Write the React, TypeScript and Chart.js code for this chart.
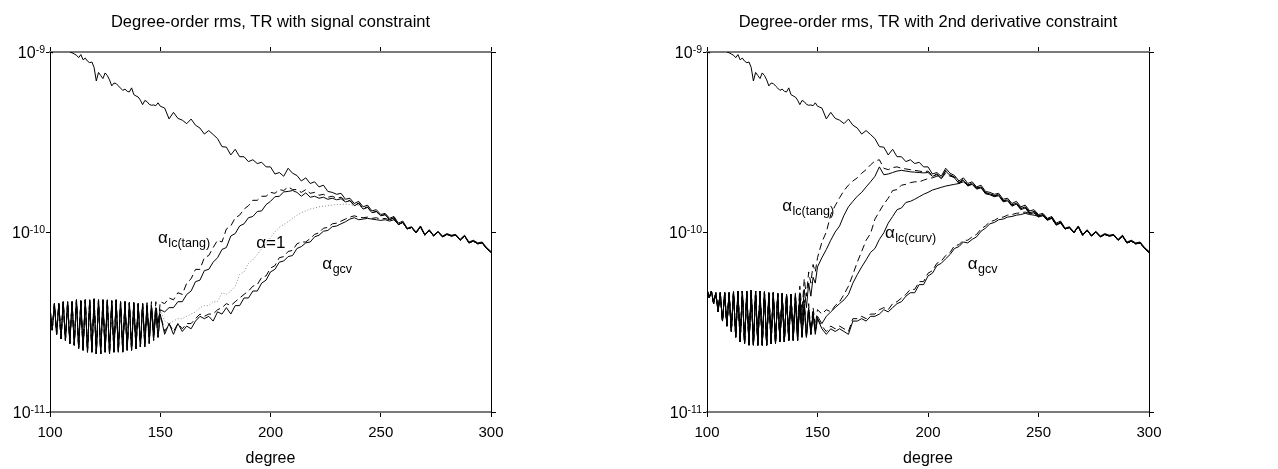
import React, { useEffect, useRef } from 'react';
import { Chart, registerables } from 'chart.js';

Chart.register(...registerables);

const FONT = '"Liberation Sans", Arial, Helvetica, sans-serif';
const UNIT = 1e-12; // all series values below are in units of 1e-12

// spherical-harmonic degree grid
const degrees = [
  100, 101, 102, 103, 104, 105, 106, 107, 108, 109,
  110, 111, 112, 113, 114, 115, 116, 117, 118, 119,
  120, 121, 122, 123, 124, 125, 126, 127, 128, 129,
  130, 131, 132, 133, 134, 135, 136, 137, 138, 139,
  140, 141, 142, 143, 144, 145, 146, 147, 148, 149, 150,
  152, 154, 156, 158, 160, 162, 164, 166, 168, 170,
  172, 174, 176, 178, 180, 182, 184, 186, 188, 190,
  192, 194, 196, 198, 200, 202, 204, 206, 208, 210,
  212, 214, 216, 218, 220, 222, 224, 226, 228, 230,
  232, 234, 236, 238, 240, 242, 244, 246, 248, 250,
  252, 254, 256, 258, 260, 262, 264, 266, 268, 270,
  272, 274, 276, 278, 280, 282, 284, 286, 288, 290,
  292, 294, 296, 298, 300,
];

// signal degree-order rms (same curve in both panels)
const signalRms = [
  1010, 985, 1040, 1060, 1080, 1070, 1090, 1060, 1040, 1000,
  990, 975, 960, 930, 968, 905, 925, 890, 872, 880,
  820, 690, 770, 740, 712, 765, 740, 700, 648, 672,
  668, 648, 630, 612, 622, 605, 600, 632, 580, 570,
  562, 540, 510, 538, 530, 512, 506, 508, 503, 522, 500,
  488, 425, 462, 428, 418, 400, 424, 392, 378, 350,
  366, 348, 330, 298, 296, 268, 288, 262, 262, 246,
  252, 240, 244, 230, 230, 210, 214, 204, 226, 212,
  206, 192, 200, 186, 190, 178, 182, 168, 166, 162,
  164, 152, 154, 144, 148, 138, 141, 131, 133, 125,
  127, 119, 122, 112, 115, 105, 107, 100, 108, 97,
  103, 96, 101, 95, 98, 96, 97, 91, 96, 88,
  90, 87, 88, 82, 78,
];

// common odd/even oscillation of all error curves, left panel, degrees 100..140
const zigLeft = [
  38, 28.5, 40, 27, 40, 25.5, 41, 25, 41, 24,
  41, 23.5, 42, 22.5, 41.5, 22, 42, 21.5, 42, 21.5,
  42.5, 21, 42, 21, 42, 21.5, 42, 21, 41.5, 21.5,
  42, 21.5, 41, 21.5, 41, 22, 40.5, 22, 40.5, 22.5,
  40,
];

// common odd/even oscillation, right panel, degrees 100..138
const zigRight = [
  48, 43, 47, 40, 46, 36, 46, 32, 46, 30,
  46, 28, 46.5, 26, 47, 24.5, 47, 24, 47, 23.5,
  47.5, 23.5, 47, 23.5, 47, 23.5, 46.5, 23.5, 46, 24,
  46, 24, 45.5, 24.5, 45.5, 24.5, 45, 25, 45,
];

// merged error curves, degrees 262..300
const mergedTail = [104, 106, 99, 107, 96, 102, 95, 100, 94, 97, 95, 96, 90, 95, 87, 89, 86, 87, 81, 77];

// left panel, degrees 141..150 then 152..260
const leftTangDash = [
  23, 40, 24, 40.5, 25, 41, 27, 41, 30, 41,
  40, 43, 42, 46, 45, 52, 55, 62, 62, 72,
  74, 82, 90, 88, 104, 108, 120, 124, 134, 140,
  150, 150, 158, 158, 166, 164, 172, 170, 178, 172,
  172, 166, 172, 164, 166, 160, 162, 156, 158, 154,
  156, 149, 150, 141, 145, 135, 138, 128, 130, 123,
  125, 117, 120, 110, 113,
];
const leftTangSolid = [
  23, 40, 24, 39.5, 26, 39, 28, 38, 31, 37,
  36, 38, 38, 41, 41, 45, 47, 53, 54, 61,
  62, 68, 72, 80, 82, 95, 98, 108, 111, 120,
  122, 130, 131, 142, 148, 157, 158, 167, 168, 170,
  166, 158, 165, 156, 158, 154, 156, 152, 154, 151,
  153, 147, 149, 140, 144, 134, 137, 128, 130, 123,
  125, 117, 120, 110, 113,
];
const leftAlphaOne = [
  23, 40, 23.5, 40, 24, 39, 25, 38, 26, 37,
  32, 31, 32, 33, 33, 34, 35, 36, 38, 39,
  39, 41, 41, 46, 45, 47, 50, 58, 60, 67,
  70, 75, 81, 87, 93, 100, 106, 110, 114, 119,
  124, 128, 131, 134, 136, 138, 139, 140, 141, 142,
  142, 143, 142, 140, 141, 135, 137, 128, 130, 123,
  125, 117, 120, 110, 113,
];
const leftGcvSolid = [
  23, 40, 23, 39, 24, 38, 25, 36, 26, 35,
  27, 31, 27, 31, 28, 30, 29, 32, 34, 33,
  34, 32, 36, 35, 38, 35, 39, 39, 43, 43,
  47, 47, 52, 54, 60, 62, 68, 69, 73, 74,
  81, 83, 87, 88, 94, 96, 101, 102, 107, 108,
  111, 114, 118, 120, 117, 118, 119, 118, 117, 116,
  117, 115, 117, 110, 113,
];
const leftGcvDash = [
  23, 40, 23, 39, 24, 38, 25, 36, 26, 35,
  28, 31, 28, 31, 29, 31, 31, 33, 35, 34,
  35, 35, 37, 38, 40, 39, 41, 43, 45, 47,
  50, 51, 56, 57, 63, 65, 72, 73, 78, 79,
  86, 88, 88, 92, 97, 99, 105, 106, 111, 112,
  115, 118, 121, 123, 121, 120, 121, 119, 120, 118,
  119, 117, 118, 110, 113,
];

// right panel, degrees 139..150 then 152..260
const rightTangDash = [
  27, 46, 30, 50, 36, 55, 44, 60, 52, 66, 60, 72,
  88, 100, 125, 140, 155, 170, 182, 192, 200, 212,
  222, 236, 248, 252, 226, 222, 228, 230, 226, 224,
  222, 220, 218, 216, 218, 206, 210, 200, 220, 208,
  202, 188, 196, 182, 186, 175, 178, 165, 163, 159,
  161, 149, 151, 141, 145, 135, 138, 128, 130, 123,
  125, 117, 120, 110, 113,
];
const rightTangSolid = [
  26, 45, 28, 46, 32, 48, 38, 52, 44, 56, 52, 64,
  72, 80, 90, 100, 108, 124, 138, 148, 158, 166,
  178, 190, 204, 230, 208, 210, 214, 218, 220, 218,
  216, 215, 214, 213, 214, 204, 208, 198, 218, 206,
  200, 186, 194, 180, 184, 173, 176, 163, 161, 157,
  159, 147, 149, 139, 143, 133, 136, 126, 128, 121,
  124, 116, 119, 109, 112,
];
const rightCurvDash = [
  25, 44, 25, 43, 26, 42, 27, 40, 28, 38, 30, 37,
  35, 37, 36, 39, 41, 45, 50, 58, 68, 78,
  90, 98, 118, 130, 143, 154, 170, 172, 182, 184,
  188, 190, 190, 194, 198, 200, 204, 198, 212, 204,
  202, 188, 196, 182, 186, 175, 178, 165, 163, 159,
  161, 149, 151, 141, 145, 135, 138, 128, 130, 123,
  125, 117, 120, 110, 113,
];
const rightCurvSolid = [
  25, 43, 25, 41, 26, 40, 26, 38, 27, 36, 28, 34,
  31, 34, 36, 38, 40, 42, 45, 52, 58, 64,
  70, 77, 81, 91, 99, 112, 122, 133, 136, 146,
  148, 152, 157, 162, 166, 171, 174, 177, 180, 182,
  184, 186, 190, 182, 186, 175, 178, 165, 163, 159,
  161, 149, 151, 141, 145, 135, 138, 128, 130, 123,
  125, 117, 120, 110, 113,
];
const rightGcvSolid = [
  25, 43, 25, 41, 26, 39, 26, 37, 27, 35, 27, 33,
  29, 27, 29, 28, 29, 28, 27, 32, 32, 33,
  32, 34, 34, 35, 37, 36, 38, 40, 41, 44,
  46, 46, 51, 51, 57, 59, 65, 67, 71, 75,
  81, 83, 88, 87, 91, 94, 101, 105, 111, 113,
  117, 118, 121, 122, 124, 125, 127, 125, 124, 122,
  123, 117, 120, 110, 113,
];
const rightGcvDash = [
  25, 43, 25, 41, 26, 39, 26, 37, 27, 35, 28, 33,
  30, 28, 30, 29, 30, 29, 28, 33, 33, 34,
  33, 35, 35, 37, 38, 37, 40, 41, 43, 45,
  48, 48, 53, 53, 59, 61, 67, 69, 74, 77,
  84, 85, 90, 90, 94, 97, 104, 108, 114, 116,
  120, 121, 124, 125, 127, 128, 129, 127, 127, 123,
  124, 118, 121, 111, 114,
];

const xTicks = [100, 150, 200, 250, 300];
const yTickValues = [1e-11, 1e-10, 1e-9];
const yTickExps = ['-11', '-10', '-9'];

// curve labels: [main, subscript, degree, value (1e-12)]
const leftLabels: [string, string, number, number][] = [
  ['\u03B1', 'lc(tang)', 149, 87],
  ['\u03B1=1', '', 193.5, 81.5],
  ['\u03B1', 'gcv', 223.5, 62],
];
const rightLabels: [string, string, number, number][] = [
  ['\u03B1', 'lc(tang)', 134, 131],
  ['\u03B1', 'lc(curv)', 180.5, 92.5],
  ['\u03B1', 'gcv', 218, 62],
];

type Style = 'solid' | 'dashed' | 'dotted';
type Panel = {
  title: string;
  width: number;
  plotLeft: number;
  plotRight: number;
  series: [number[], Style][];
  labels: [string, string, number, number][];
};

const leftPanel: Panel = {
  title: 'Degree-order rms, TR with signal constraint',
  width: 640,
  plotLeft: 50,
  plotRight: 491,
  series: [
    [[...zigLeft, ...leftGcvSolid, ...mergedTail], 'solid'],
    [[...zigLeft, ...leftGcvDash, ...mergedTail], 'dashed'],
    [[...zigLeft, ...leftTangSolid, ...mergedTail], 'solid'],
    [[...zigLeft, ...leftTangDash, ...mergedTail], 'dashed'],
    [[...zigLeft, ...leftAlphaOne, ...mergedTail], 'dotted'],
    [signalRms, 'solid'],
  ],
  labels: leftLabels,
};

const rightPanel: Panel = {
  title: 'Degree-order rms, TR with 2nd derivative constraint',
  width: 638,
  plotLeft: 67,
  plotRight: 509,
  series: [
    [[...zigRight, ...rightGcvSolid, ...mergedTail], 'solid'],
    [[...zigRight, ...rightGcvDash, ...mergedTail], 'dashed'],
    [[...zigRight, ...rightCurvSolid, ...mergedTail], 'solid'],
    [[...zigRight, ...rightCurvDash, ...mergedTail], 'dashed'],
    [[...zigRight, ...rightTangSolid, ...mergedTail], 'solid'],
    [[...zigRight, ...rightTangDash, ...mergedTail], 'dashed'],
    [signalRms, 'solid'],
  ],
  labels: rightLabels,
};

const HEIGHT = 469;
const PLOT_TOP = 52;
const PLOT_BOTTOM = 412;
const TITLE_SIZE = 16.5;
const TITLE_PAD_TOP = 12.5;

function ChartPanel({ panel, left }: { panel: Panel; left: number }) {
  const ref = useRef<HTMLCanvasElement>(null);
  useEffect(() => {
    if (!ref.current) return;
    const datasets = panel.series.map(([values, style]) => ({
      data: degrees.map((d, i) => ({ x: d, y: values[i] * UNIT })),
      borderColor: style === 'dotted' ? '#8c8c8c' : '#000000',
      borderWidth: 1,
      borderDash: style === 'dashed' ? [7, 4] : style === 'dotted' ? [1, 2] : [],
      pointRadius: 0,
      tension: 0,
      fill: false,
    }));

    const frameGrid = {
      display: true,
      drawOnChartArea: false,
      drawTicks: true,
      tickLength: 5,
      color: '#000000',
      lineWidth: 1,
    };
    const setX = (s: any) => {
      s.ticks = xTicks.map((v) => ({ value: v }));
    };
    const setY = (s: any) => {
      s.ticks = yTickValues.map((v) => ({ value: v }));
    };
    const titleHeight = TITLE_PAD_TOP + TITLE_SIZE * 1.2;

    const textPlugin = {
      id: 'panelText',
      afterDraw(chart: any) {
        const { ctx, chartArea, scales } = chart;
        ctx.save();
        ctx.fillStyle = '#000000';
        ctx.textBaseline = 'alphabetic';
        // y tick labels 10^n
        yTickValues.forEach((v, i) => {
          const y = scales.y.getPixelForValue(v);
          const exp = yTickExps[i];
          ctx.font = `10.5px ${FONT}`;
          const ew = ctx.measureText(exp).width;
          const right = chartArea.left - 5;
          ctx.textAlign = 'left';
          ctx.fillText(exp, right - ew, y + 0.5);
          ctx.font = `16px ${FONT}`;
          ctx.textAlign = 'right';
          ctx.fillText('10', right - ew, y + 6);
        });
        // curve labels
        ctx.textAlign = 'left';
        panel.labels.forEach(([main, sub, deg, val]) => {
          const x = scales.x.getPixelForValue(deg);
          const y = scales.y.getPixelForValue(val * UNIT);
          ctx.font = `17px ${FONT}`;
          ctx.fillText(main, x, y);
          const w = ctx.measureText(main).width;
          if (sub) {
            ctx.font = `12.5px ${FONT}`;
            ctx.fillText(sub, x + w + 0.5, y + 4);
          }
        });
        ctx.restore();
      },
    };

    const chart = new Chart(ref.current, {
      type: 'line',
      data: { datasets } as any,
      options: {
        animation: false,
        responsive: false,
        events: [],
        layout: { padding: 0 },
        plugins: {
          legend: { display: false },
          tooltip: { enabled: false },
          title: {
            display: true,
            text: panel.title,
            fullSize: false,
            color: '#000000',
            font: { family: FONT, size: TITLE_SIZE, weight: 'normal' },
            padding: { top: TITLE_PAD_TOP, bottom: 0 },
          },
        },
        scales: {
          x: {
            type: 'linear',
            position: 'bottom',
            min: 100,
            max: 300,
            afterBuildTicks: setX,
            afterFit: (s: any) => {
              s.height = HEIGHT - PLOT_BOTTOM;
            },
            ticks: { color: '#000000', font: { family: FONT, size: 15 }, padding: 7, maxRotation: 0, autoSkip: false },
            grid: frameGrid,
            border: { display: true, color: '#7a7a7a', width: 2 },
            title: {
              display: true,
              text: 'degree',
              color: '#000000',
              font: { family: FONT, size: 16 },
              padding: { top: 0, bottom: 1 },
            },
          },
          xTop: {
            type: 'linear',
            position: 'top',
            min: 100,
            max: 300,
            afterBuildTicks: setX,
            afterFit: (s: any) => {
              s.height = PLOT_TOP - titleHeight;
            },
            ticks: { display: false },
            grid: frameGrid,
            border: { display: true, color: '#7a7a7a', width: 2 },
          },
          y: {
            type: 'logarithmic',
            position: 'left',
            min: 1e-11,
            max: 1e-9,
            afterBuildTicks: setY,
            afterFit: (s: any) => {
              s.width = panel.plotLeft;
            },
            ticks: { callback: () => '', padding: 0 },
            grid: { ...frameGrid, tickLength: 4 },
            border: { display: true, color: '#000000', width: 1 },
          },
          yRight: {
            type: 'logarithmic',
            position: 'right',
            min: 1e-11,
            max: 1e-9,
            afterBuildTicks: setY,
            afterFit: (s: any) => {
              s.width = panel.width - panel.plotRight;
            },
            ticks: { display: false },
            grid: { ...frameGrid, tickLength: 5 },
            border: { display: true, color: '#000000', width: 1 },
          },
        },
      } as any,
      plugins: [textPlugin],
    });
    return () => chart.destroy();
  }, [panel]);

  return (
    <canvas
      ref={ref}
      width={panel.width}
      height={HEIGHT}
      style={{ position: 'absolute', left, top: 0, width: panel.width, height: HEIGHT, display: 'block' }}
    />
  );
}

export default function App() {
  return (
    <div style={{ position: 'fixed', left: 0, top: 0, width: 1278, height: HEIGHT, background: '#ffffff', overflow: 'hidden' }}>
      <ChartPanel panel={leftPanel} left={0} />
      <ChartPanel panel={rightPanel} left={640} />
    </div>
  );
}
